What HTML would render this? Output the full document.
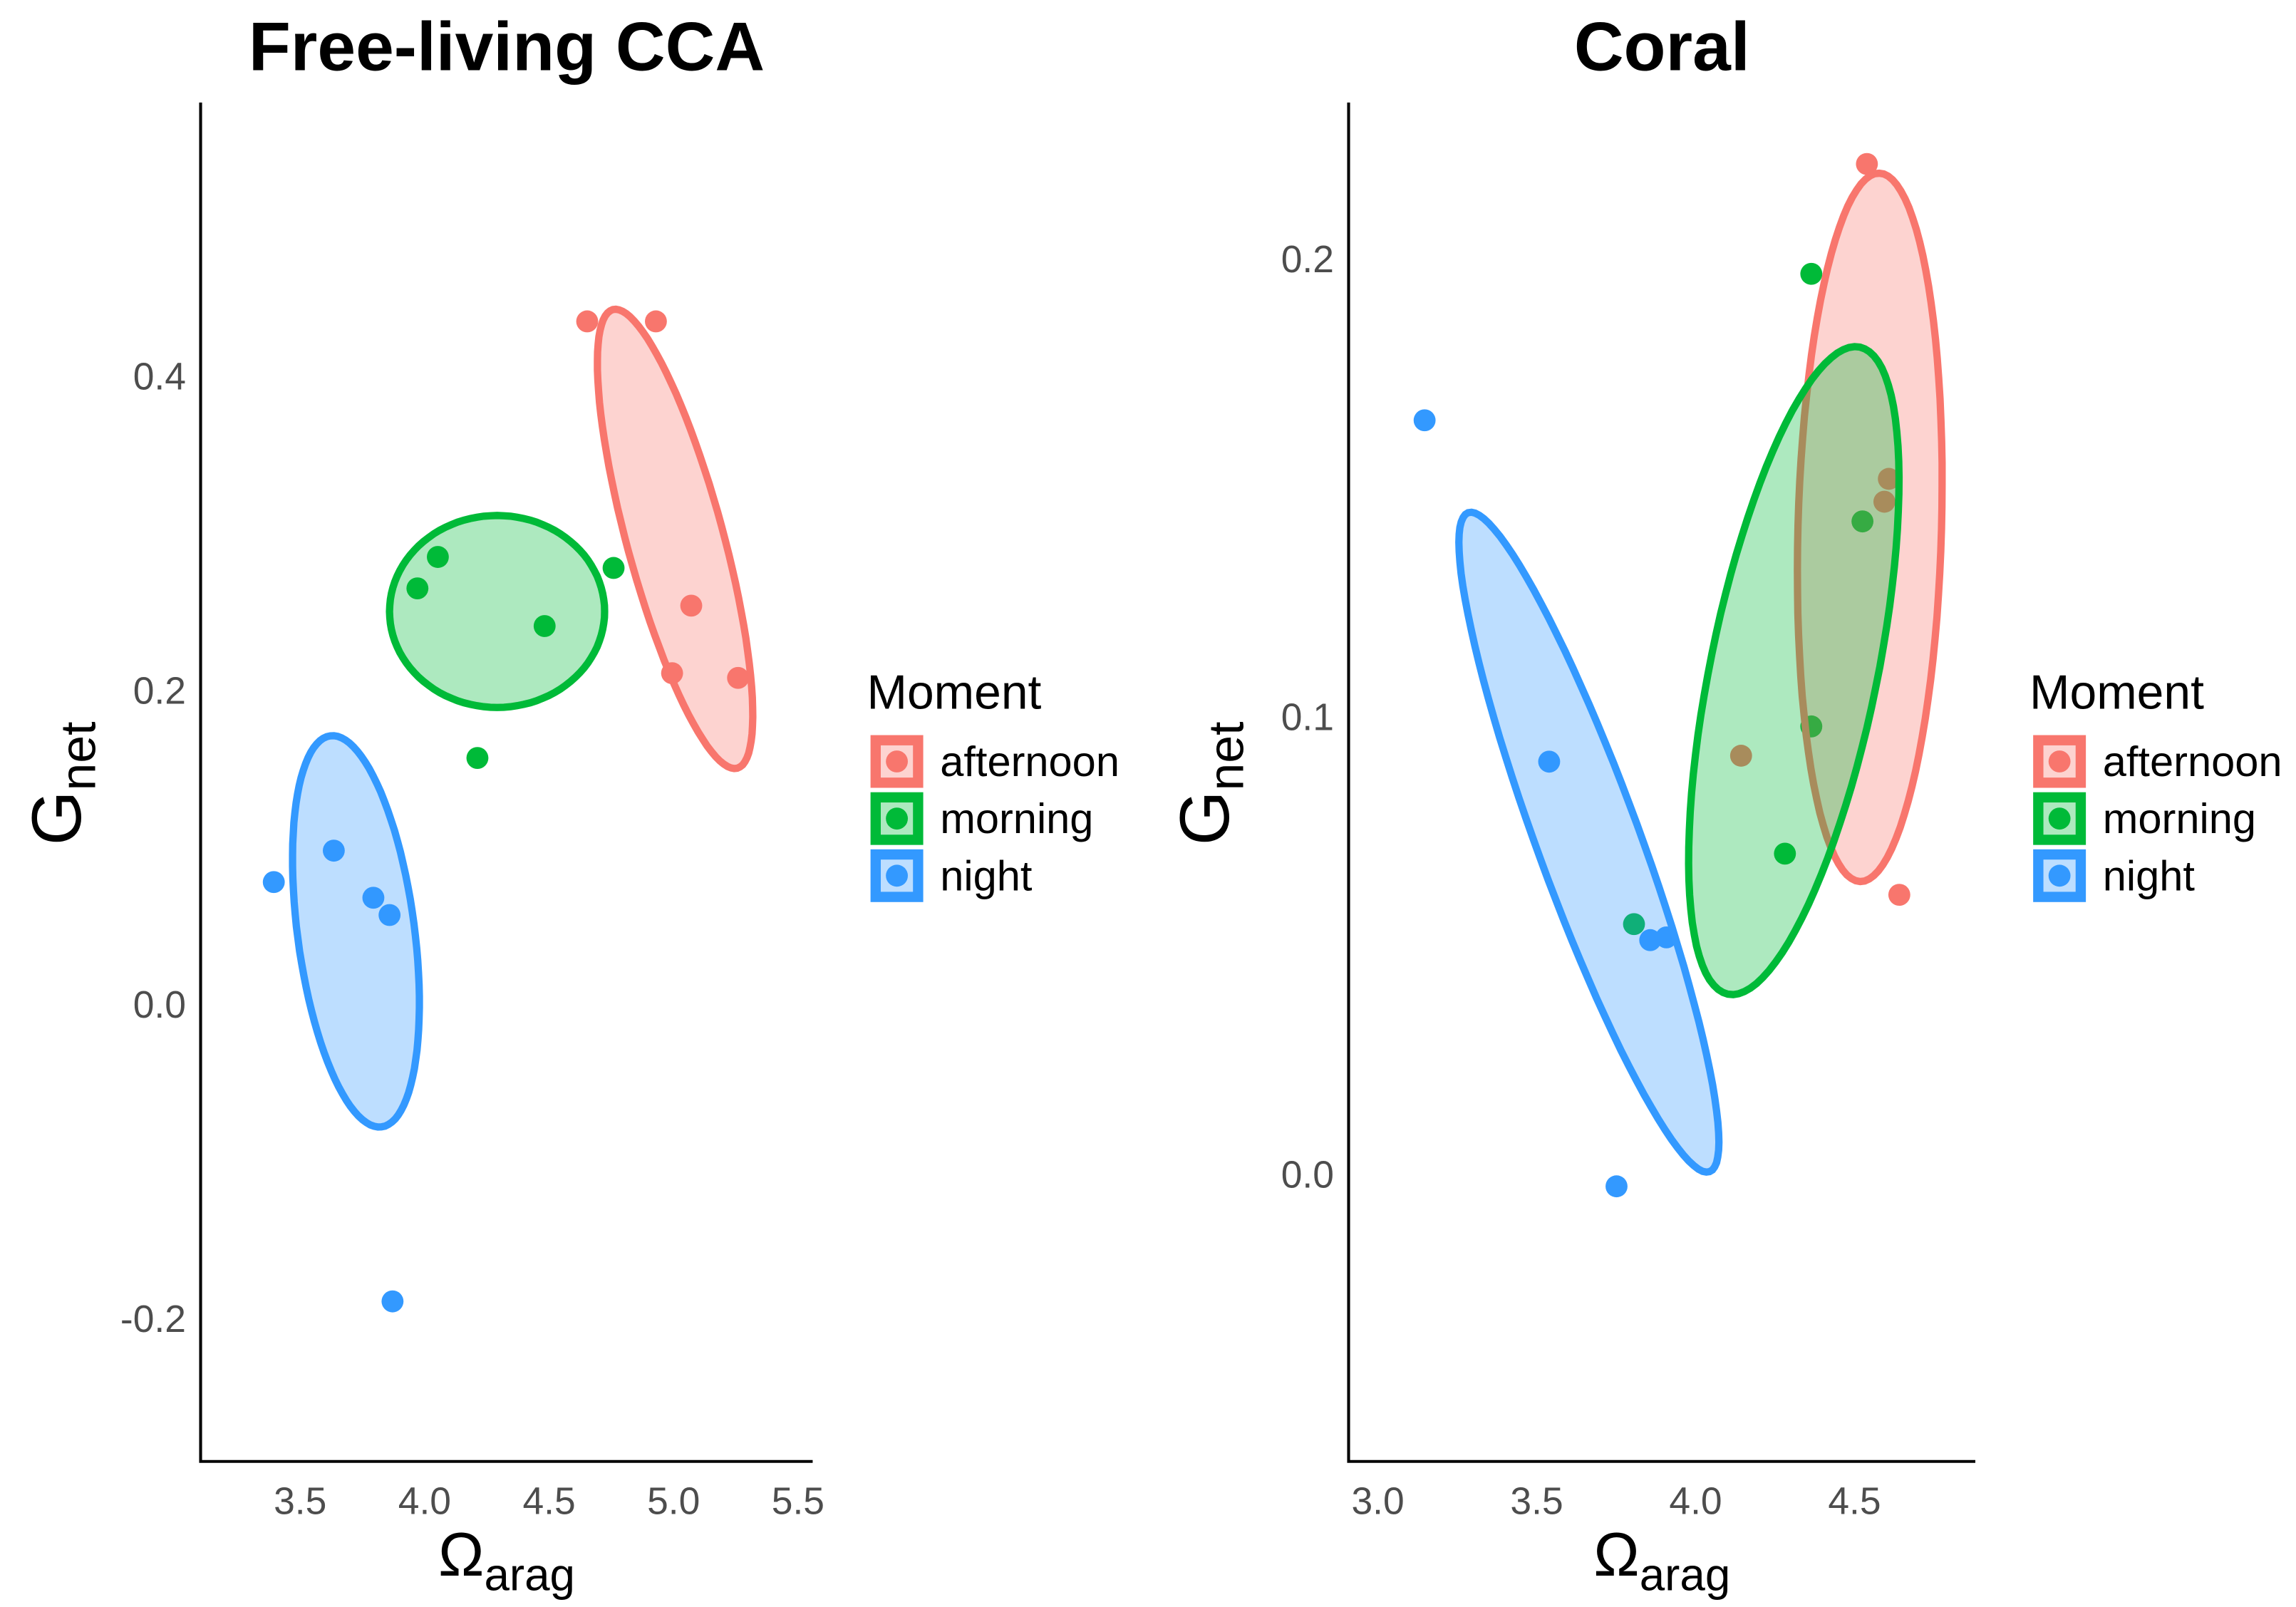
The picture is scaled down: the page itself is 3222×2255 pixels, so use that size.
<!DOCTYPE html>
<html><head><meta charset="utf-8"><style>
html,body{margin:0;padding:0;background:#fff;}
svg{display:block;font-family:"Liberation Sans",sans-serif;}
</style></head><body>
<svg id="fig" width="3222" height="2255" viewBox="0 0 1568 1097.4" xmlns="http://www.w3.org/2000/svg"></svg>
<script>
const groups = ["afternoon","morning","night"];
const colors = {afternoon:"#F8766D", morning:"#00BA38", night:"#3399FF"};
// Left panel data
const ccaX = {afternoon:[4.653,4.929,5.071,4.994,5.259], morning:[4.053,3.971,4.482,4.759,4.212], night:[3.394,3.635,3.794,3.859,3.871]};
const ccaY = {afternoon:[0.435,0.435,0.254,0.211,0.208], morning:[0.285,0.265,0.241,0.278,0.157], night:[0.078,0.098,0.068,0.057,-0.189]};
// ellipses: center, axis a, axis b (data units)
const ccaEll = {afternoon:[5.006,0.2965,0.25,-0.146,0.187,0.008], morning:[4.291,0.2503,0.432,0,0,0.0611], night:[3.724,0.0466,0.103,-0.1245,0.233,0.00485]};
const ccaXTicks = [3.5,4.0,4.5,5.0,5.5];
const ccaYTicks = [-0.2,0.0,0.2,0.4];
// Right panel data
const corX = {afternoon:[4.539,4.608,4.594,4.641,4.143], morning:[4.364,4.525,4.364,4.281,3.806], night:[3.147,3.539,3.857,3.908,3.751]};
const corY = {afternoon:[0.2208,0.152,0.147,0.0611,0.0915], morning:[0.1968,0.1427,0.0979,0.0701,0.0547], night:[0.1648,0.0902,0.0512,0.0518,-0.0026]};
const corEll = {afternoon:[4.548,0.1414,0.030,0.0774,0.2258,-0.0004], morning:[4.309,0.1101,0.2074,0.0707,0.258,-0.00365], night:[3.664,0.0726,-0.380,0.072,0.1516,0.00384]};
const corXTicks = [3.0,3.5,4.0,4.5];
const corYTicks = [0.0,0.1,0.2];

const NS="http://www.w3.org/2000/svg";
const svg=document.getElementById('fig');
function mk(tag,attrs,parent,text){const e=document.createElementNS(NS,tag);for(const k in attrs)e.setAttribute(k,attrs[k]);if(text!==undefined)e.textContent=text;(parent||svg).appendChild(e);return e;}

function panel(opt){
  const g=mk('g',{});
  
  
  const sx=v=>opt.x0+(v-opt.xr)*opt.xs, sy=v=>opt.y0-(v-opt.yr)*opt.ys;
  const t=mk('text',{x:opt.tx,y:48,'text-anchor':'middle','font-size':47,'font-weight':'bold',fill:'#000'},g,opt.title);
  
  
  groups.forEach(k=>{
    opt.X[k].forEach((v,i)=>{
      const c=mk('circle',{cx:sx(v),cy:sy(opt.Y[k][i]),r:7.5,fill:colors[k]},g);
      
      
    });
  });
  // ellipses
  groups.forEach(k=>{
    const e=opt.ell[k];let d='';
    for(let i=0;i<=100;i++){const a=i/100*2*Math.PI;const vx=e[0]+e[2]*Math.cos(a)+e[4]*Math.sin(a);const vy=e[1]+e[3]*Math.cos(a)+e[5]*Math.sin(a);d+=(i?'L':'M')+sx(vx).toFixed(1)+','+sy(vy).toFixed(1);}
    const p=mk('path',{d:d+'Z',fill:colors[k],'fill-opacity':0.32,stroke:colors[k],'stroke-width':5},g);
    
    
  });
  const ax=mk('path',{d:`M${opt.ax0},70V998H${opt.ax1}`,fill:'none',stroke:'#000','stroke-width':2},g);
  
  
  opt.xt.forEach(v=>{const l=mk('text',{x:sx(v),y:1034,'text-anchor':'middle','font-size':26,fill:'#4D4D4D'},g,v.toFixed(1));
    
    });
  opt.yt.forEach(v=>{const l=mk('text',{x:opt.ax0-10,y:sy(v)+9,'text-anchor':'end','font-size':26,fill:'#4D4D4D'},g,v.toFixed(1));
    
    });
  const xl=mk('text',{x:opt.tx,y:1076,'text-anchor':'middle','font-size':42,fill:'#000'},g);
  
  
  mk('tspan',{},xl,'Ω');mk('tspan',{'font-size':31,dy:10},xl,'arag');
  const yl=mk('text',{transform:`translate(${opt.ax0-82},535) rotate(-90)`,'text-anchor':'middle','font-size':48,fill:'#000'},g);
  
  
  mk('tspan',{},yl,'G');mk('tspan',{'font-size':34,dy:10},yl,'net');
  // legend
  const lg=mk('g',{},g);
  
  
  mk('text',{x:opt.lx,y:484,'font-size':33,fill:'#000'},lg,'Moment');
  groups.forEach((k,i)=>{
    const y=502+i*39;
    const kg=mk('g',{},lg);
    
    
    mk('rect',{x:opt.lx+6,y:y+3.5,width:29,height:29,fill:colors[k],'fill-opacity':0.32,stroke:colors[k],'stroke-width':7},kg);
    mk('circle',{cx:opt.lx+20.5,cy:y+18,r:7.5,fill:colors[k]},kg);
    mk('text',{x:opt.lx+50,y:y+28,'font-size':29,fill:'#000'},kg,k);
  });
}
panel({name:'panel-free-living-cca',title:'Free-living CCA',tx:346,X:ccaX,Y:ccaY,ell:ccaEll,xt:ccaXTicks,yt:ccaYTicks,
  x0:205,xr:3.5,xs:170,y0:686,yr:0,ys:1072.5,ax0:137,ax1:555,lx:592});
panel({name:'panel-coral',title:'Coral',tx:1135,X:corX,Y:corY,ell:corEll,xt:corXTicks,yt:corYTicks,
  x0:941,xr:3.0,xs:217,y0:802,yr:0,ys:3125,ax0:921,ax1:1349,lx:1386});
</script>
</body></html>
